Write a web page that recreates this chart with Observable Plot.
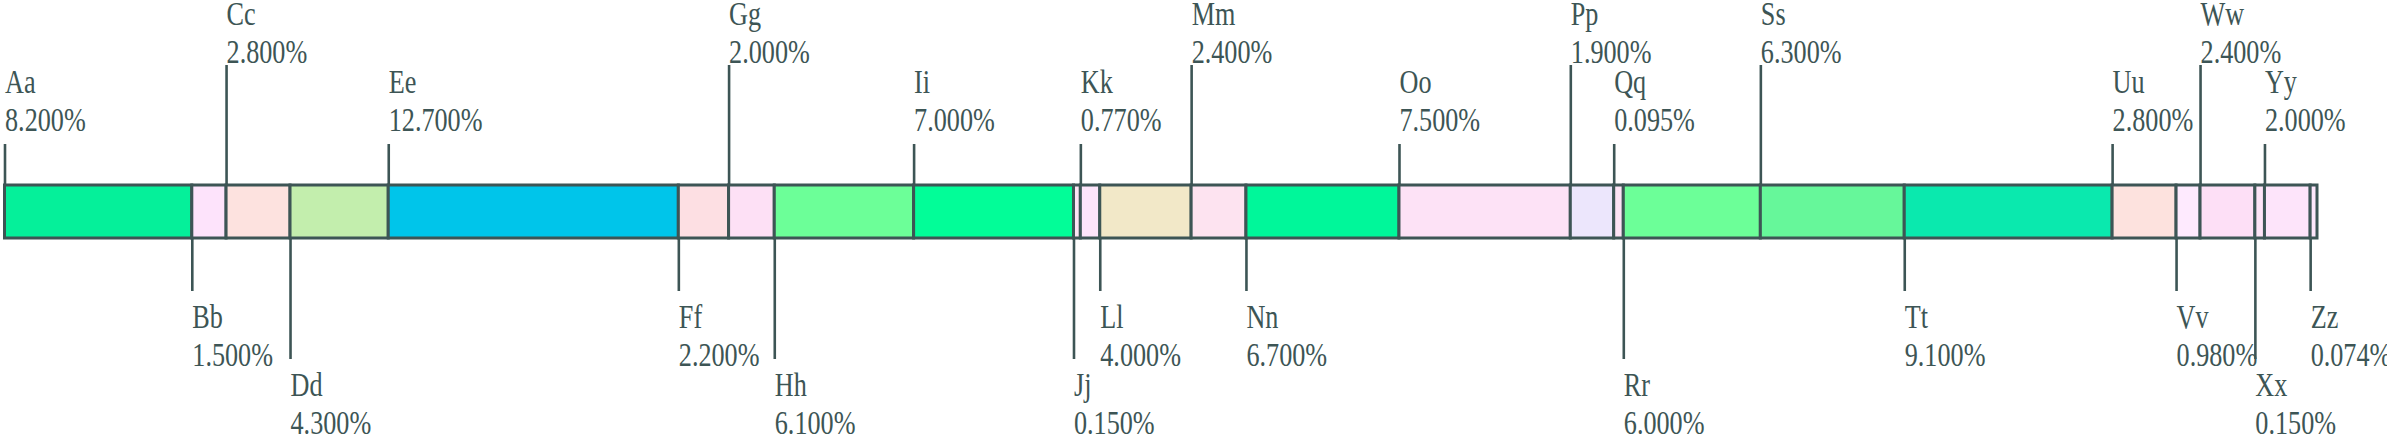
<!DOCTYPE html>
<html>
<head>
<meta charset="utf-8">
<script src="https://cdn.jsdelivr.net/npm/d3@7"></script>
<script src="https://cdn.jsdelivr.net/npm/@observablehq/plot@0.6"></script>
<style>
  html, body { margin: 0; padding: 0; background: #ffffff; }
  #chart svg { display: block; overflow: visible; }
  #chart svg text, #chart svg tspan { font-family: "Liberation Serif", "Times New Roman", serif !important; }
</style>
</head>
<body>
<div id="chart"></div>
<script>
// Category names
const names = ["Aa","Bb","Cc","Dd","Ee","Ff","Gg","Hh","Ii","Jj","Kk","Ll","Mm","Nn","Oo","Pp","Qq","Rr","Ss","Tt","Uu","Vv","Ww","Xx","Yy","Zz"];
// Labelled share of each category (percent)
const shares = [8.2,1.5,2.8,4.3,12.7,2.2,2.0,6.1,7.0,0.15,0.77,4.0,2.4,6.7,7.5,1.9,0.095,6.0,6.3,9.1,2.8,0.98,2.4,0.15,2.0,0.074];
// Segment sizes as drawn (the share, except tiny segments that are drawn wider)
const widths = [8.2,1.5,2.8,4.3,12.7,2.2,2.0,6.1,7.0,0.3,0.85,4.0,2.4,6.7,7.5,1.9,0.42,6.0,6.3,9.1,2.8,1.05,2.4,0.42,2.0,0.3];
// Segment fills
const colors = ["#05f09a","#fde3fb","#fde2df","#c3eead","#00c5ea","#fddfe3","#fde0f5","#6cff98","#02fd98","#fde4f4","#fde5fb","#f2e8c8","#fde3f0","#00f79a","#fde2f6","#ece6fc","#fde3f5","#6cff98","#66f79a","#0ae9ae","#fde2de","#feeafe","#fddff6","#fde4f7","#fde4fa","#fde6fb"];
// Label placement: side (t/b) and tier (0 = close, 1 = far)
const placement = ["t0","b0","t1","b1","t0","b0","t1","b1","t0","b1","t0","b0","t1","b0","t0","t1","t0","b1","t1","b0","t0","b0","t1","b1","t0","b0"];

const ends = d3.cumsum(widths);
const data = names.map((n, i) => ({
  name: n,
  share: shares[i],
  x1: ends[i] - widths[i],
  x2: ends[i],
  fill: colors[i],
  place: placement[i],
  label: n + "\n" + d3.format(".3f")(shares[i]) + "%"
}));

const ink = "#3d5555";
const fontSize = 34;
const lh = 38 / fontSize;

const tier = (p) => data.filter(d => d.place === p);

const textOpts = {
  x: "x1", text: "label", fill: ink, textAnchor: "start",
  fontSize, lineHeight: lh, fontFamily: "Liberation Serif"
};

const chart = Plot.plot({
  width: 2387,
  height: 434,
  marginLeft: 4.5,
  marginRight: 70,
  marginTop: 185,
  marginBottom: 196,
  x: {domain: [0, d3.sum(widths)], axis: null},
  style: {background: "#ffffff", overflow: "visible", fontFamily: "Liberation Serif"},
  marks: [
    Plot.ruleX(tier("t1"), {x: "x1", stroke: ink, strokeWidth: 2.6, insetTop: -120}),
    Plot.ruleX(tier("t0"), {x: "x1", stroke: ink, strokeWidth: 2.6, insetTop: -41}),
    Plot.ruleX(tier("b0"), {x: "x1", stroke: ink, strokeWidth: 2.6, insetBottom: -53}),
    Plot.ruleX(tier("b1"), {x: "x1", stroke: ink, strokeWidth: 2.6, insetBottom: -121}),
    Plot.rect(data, {x1: "x1", x2: "x2", fill: "fill", stroke: ink, strokeWidth: 3}),
    Plot.text(tier("t1"), {...textOpts, frameAnchor: "top", lineAnchor: "bottom", dy: -123}),
    Plot.text(tier("t0"), {...textOpts, frameAnchor: "top", lineAnchor: "bottom", dy: -55}),
    Plot.text(tier("b0"), {...textOpts, frameAnchor: "bottom", lineAnchor: "top", dy: 63}),
    Plot.text(tier("b1"), {...textOpts, frameAnchor: "bottom", lineAnchor: "top", dy: 131})
  ]
});

// Condense the serif glyphs horizontally around each label's anchor
d3.select(chart).selectAll("text").each(function() {
  const t = this.getAttribute("transform");
  if (t) {
    this.setAttribute("transform", t + " scale(0.77,1)");
  } else {
    const x = this.getAttribute("x") || 0, y = this.getAttribute("y") || 0;
    this.removeAttribute("x"); this.removeAttribute("y");
    this.setAttribute("transform", `translate(${x},${y}) scale(0.77,1)`);
  }
});

document.getElementById("chart").appendChild(chart);
</script>
</body>
</html>
